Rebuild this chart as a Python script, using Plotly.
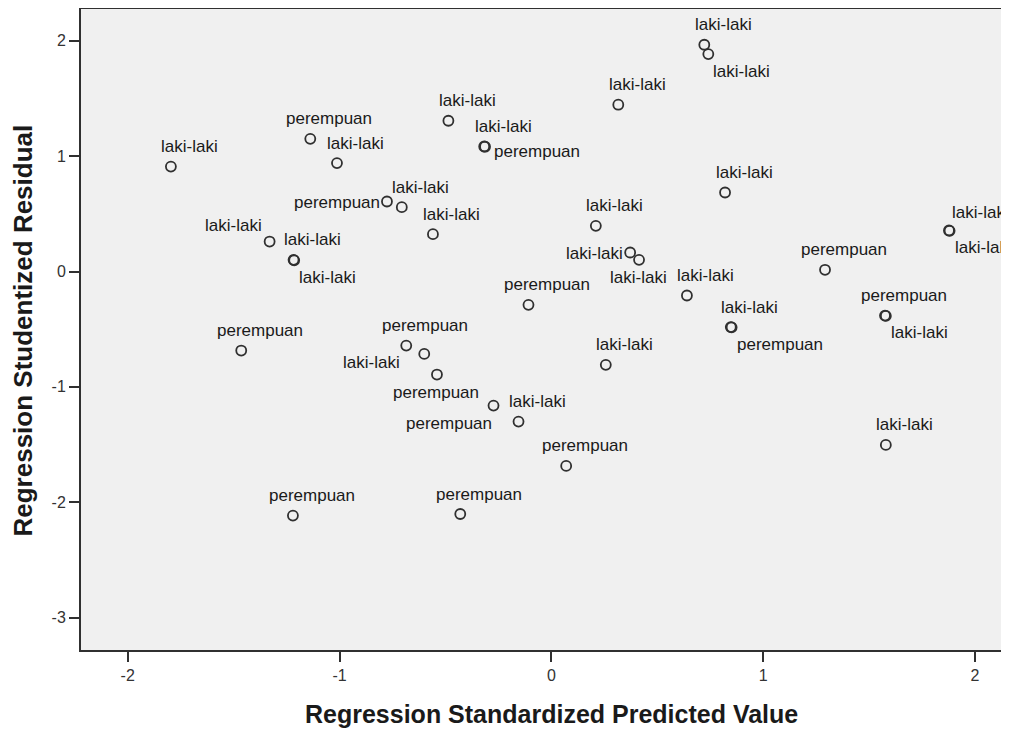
import plotly.graph_objects as go

pred = [-1.796, -1.138, -1.012, -0.486, -0.317, -0.313, 0.316, 0.722, 0.741,
        -0.776, -0.706, -0.559, -1.330, -1.217, -1.214, 0.210, 0.372, 0.414,
        0.820, 1.877, 1.880, 1.292, 0.640, 0.847, 0.851, 1.575, 1.579,
        -0.108, 0.257, 1.579, -0.273, -0.155, 0.070, -1.464, -0.685, -0.600,
        -0.540, -1.220, -0.430]
resid = [0.910, 1.150, 0.940, 1.307, 1.084, 1.082, 1.446, 1.966, 1.885,
         0.607, 0.558, 0.324, 0.260, 0.101, 0.097, 0.396, 0.165, 0.101,
         0.685, 0.356, 0.353, 0.015, -0.208, -0.482, -0.484, -0.382, -0.385,
         -0.289, -0.809, -1.503, -1.162, -1.301, -1.685, -0.685, -0.642, -0.714,
         -0.893, -2.116, -2.102]
gender = ["laki-laki", "perempuan", "laki-laki", "laki-laki", "laki-laki", "perempuan",
          "laki-laki", "laki-laki", "laki-laki", "perempuan", "laki-laki", "laki-laki",
          "laki-laki", "laki-laki", "laki-laki", "laki-laki", "laki-laki", "laki-laki",
          "laki-laki", "laki-laki", "laki-laki", "perempuan", "laki-laki", "laki-laki",
          "perempuan", "perempuan", "laki-laki", "perempuan", "laki-laki", "laki-laki",
          "perempuan", "laki-laki", "perempuan", "perempuan", "perempuan", "laki-laki",
          "perempuan", "perempuan", "perempuan"]
label_pos = ["above", "above", "above", "above", "above", "right",
             "above", "above", "below", "left", "above", "above",
             "above_l", "above", "below", "above", "left", "below_c",
             "above", "above_r", "below", "above", "above", "above",
             "below", "above", "below", "above", "above", "above",
             "below_l", "above", "above", "above", "above", "left_low",
             "below_c", "above", "above"]

x_ticks = [-2, -1, 0, 1, 2]
x_ticktext = ["-2", "-1", "0", "1", "2"]
y_ticks = [-3, -2, -1, 0, 1, 2]
y_ticktext = ["-3", "-2", "-1", "0", "1", "2"]

# label placement styles: (xanchor, xshift, yshift)
POS = {
    "above": ("center", 19, 20),
    "above_r": ("left", 1, 18),
    "above_l": ("right", -6, 16),
    "right": ("left", 7, -5),
    "left": ("right", -5, -1),
    "below": ("left", 3, -17),
    "below_c": ("center", -1, -18),
    "below_l": ("right", 0, -18),
    "left_low": ("right", -22, -9),
}

FONT = "Liberation Sans, Arial, sans-serif"
DARK = "#303030"

fig = go.Figure()
fig.add_trace(go.Scatter(
    x=pred, y=resid, mode="markers",
    marker=dict(symbol="circle-open", size=10, color=DARK, line=dict(width=1.8, color=DARK)),
    hoverinfo="skip", showlegend=False,
))

for xv, yv, txt, p in zip(pred, resid, gender, label_pos):
    xa, xs, ys = POS[p]
    fig.add_annotation(x=xv, y=yv, xref="x", yref="y", text=txt, showarrow=False,
                       xanchor=xa, yanchor="middle", xshift=xs, yshift=ys,
                       font=dict(family=FONT, size=17, color="#1a1a1a"))

# axis titles
fig.add_annotation(x=0, y=0, xref="x", yref="paper", text="<b>Regression Standardized Predicted Value</b>",
                   showarrow=False, xanchor="center", yanchor="middle", yshift=-64,
                   font=dict(family=FONT, size=25, color="#1a1a1a"))
fig.add_annotation(x=0, y=0.5, xref="paper", yref="paper", text="<b>Regression Studentized Residual</b>",
                   showarrow=False, xanchor="center", yanchor="middle", xshift=-59, yshift=-1,
                   textangle=-90, font=dict(family=FONT, size=26, color="#1a1a1a"))

fig.update_layout(
    width=1001, height=721,
    margin=dict(l=73, r=0, t=1, b=79),
    paper_bgcolor="white", plot_bgcolor="#f0f0f0",
    xaxis=dict(range=[-2.2204, 2.1604], tickvals=x_ticks, ticktext=x_ticktext,
               ticks="outside", ticklen=10, tickwidth=1.5,
               tickcolor=DARK, showline=True, linecolor=DARK, linewidth=2, mirror=True,
               showgrid=False, zeroline=False,
               tickfont=dict(family=FONT, size=16, color="#333333")),
    yaxis=dict(range=[-3.281, 2.2758], tickvals=y_ticks, ticktext=y_ticktext,
               ticks="outside", ticklen=10, tickwidth=1.5,
               tickcolor=DARK, showline=True, linecolor=DARK, linewidth=2,
               showgrid=False, zeroline=False,
               tickfont=dict(family=FONT, size=16, color="#333333")),
)

fig.write_html("out.html")
